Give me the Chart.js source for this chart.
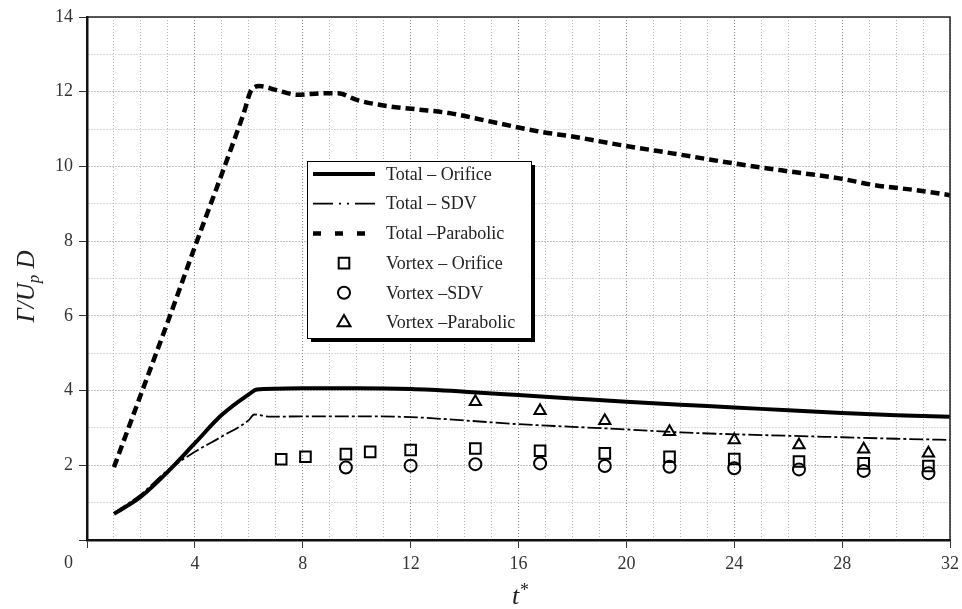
<!DOCTYPE html>
<html>
<head>
<meta charset="utf-8">
<script src="https://cdn.jsdelivr.net/npm/chart.js@4.4.0/dist/chart.umd.min.js"></script>
<style>
  html, body { margin: 0; padding: 0; background: #fff; }
  #wrap { width: 962px; height: 609px; }
</style>
</head>
<body>
<div id="wrap"><canvas id="chart" width="962" height="609"></canvas></div>
<script>
// total circulation curves
const orificeT = [1, 2, 3, 4, 5, 6, 6.3, 7, 8, 10, 12, 14, 16, 18, 20, 22, 24, 26, 28, 30, 32];
const orificeTotal = [0.7, 1.16, 1.83, 2.59, 3.35, 3.9, 4.03, 4.05, 4.06, 4.06, 4.04, 3.97, 3.88, 3.79, 3.70, 3.62, 3.55, 3.47, 3.40, 3.34, 3.30];

const sdvT = [1, 2, 3, 4, 5, 6, 6.2, 6.8, 8, 10, 12, 14, 16, 18, 20, 22, 24, 26, 28, 30, 32];
const sdvTotal = [0.72, 1.22, 1.87, 2.36, 2.77, 3.21, 3.36, 3.30, 3.31, 3.31, 3.29, 3.20, 3.10, 3.03, 2.96, 2.88, 2.83, 2.79, 2.75, 2.71, 2.68];

const paraT = [1, 2, 3, 4, 5, 5.8, 6.1, 6.4, 7, 7.8, 8.8, 9.3, 10, 11, 12.2, 13.5, 14.7, 16.8, 18, 19.8, 21.7, 24, 25.9, 27.9, 29.2, 30.9, 32];
const paraTotal = [1.95, 3.9, 5.85, 7.85, 9.8, 11.4, 12.05, 12.15, 12.05, 11.92, 11.96, 11.96, 11.78, 11.63, 11.53, 11.42, 11.24, 10.93, 10.8, 10.57, 10.35, 10.08, 9.88, 9.68, 9.5, 9.35, 9.23];

// vortex circulation markers
const orificeVortexT = [7.2, 8.1, 9.6, 10.5, 12, 14.4, 16.8, 19.2, 21.6, 24, 26.4, 28.8, 31.2];
const orificeVortex = [2.16, 2.23, 2.30, 2.36, 2.41, 2.45, 2.39, 2.32, 2.23, 2.17, 2.10, 2.05, 1.98];

const sdvVortexT = [9.6, 12, 14.4, 16.8, 19.2, 21.6, 24, 26.4, 28.8, 31.2];
const sdvVortex = [1.94, 1.99, 2.03, 2.05, 1.98, 1.96, 1.92, 1.89, 1.85, 1.79];

const paraVortexT = [14.4, 16.8, 19.2, 21.6, 24, 26.4, 28.8, 31.2];
const paraVortex = [3.70, 3.46, 3.19, 2.90, 2.68, 2.54, 2.43, 2.32];

const xTickStep = 4;
const yTickStep = 2;

const SERIF = '"Liberation Serif", "DejaVu Serif", serif';
const pts = (xs, ys) => xs.map((x, i) => ({ x, y: ys[i] }));

function lineSet(label, xs, ys, width, dash) {
    return {
        label, data: pts(xs, ys), showLine: true,
        borderColor: "#000", borderWidth: width, borderDash: dash,
        pointRadius: 0, cubicInterpolationMode: "monotone", fill: false,
    };
}
function markerSet(label, xs, ys, style, radius) {
    return {
        label, data: pts(xs, ys), showLine: false,
        pointStyle: style, pointRadius: radius, pointBorderWidth: 2,
        pointBorderColor: "#000", pointBackgroundColor: "rgba(0,0,0,0)",
        borderColor: "#000", backgroundColor: "rgba(0,0,0,0)",
    };
}

function drawMarker(ctx, style, x, y, r) {
    ctx.beginPath();
    if (style === "rect") {
        const s = r * Math.SQRT1_2;
        ctx.rect(x - s, y - s, 2 * s, 2 * s);
    } else if (style === "circle") {
        ctx.arc(x, y, r, 0, Math.PI * 2);
    } else {
        const w = r * Math.sqrt(3) / 2;
        ctx.moveTo(x, y - r);
        ctx.lineTo(x + w, y + r / 2);
        ctx.lineTo(x - w, y + r / 2);
        ctx.closePath();
    }
    ctx.stroke();
}

const decor = {
    id: "decor",
    afterDraw(chart) {
        const { ctx, chartArea: a } = chart;
        ctx.save();
        // top / right frame
        ctx.strokeStyle = "#222";
        ctx.lineWidth = 1.5;
        ctx.beginPath();
        ctx.moveTo(a.left, a.top); ctx.lineTo(a.right, a.top); ctx.lineTo(a.right, a.bottom);
        ctx.stroke();

        // shared corner zero
        ctx.fillStyle = "#333";
        ctx.font = "18px " + SERIF;
        ctx.textAlign = "right";
        ctx.textBaseline = "middle";
        ctx.fillText("0", a.left - 14, a.bottom + 23);

        // x title t*
        const xc = (a.left + a.right) / 2;
        ctx.fillStyle = "#222";
        ctx.textAlign = "left";
        ctx.textBaseline = "alphabetic";
        ctx.font = "italic 26px " + SERIF;
        const tw = ctx.measureText("t").width;
        ctx.fillText("t", xc - tw / 2 - 3, 604);
        ctx.font = "18px " + SERIF;
        ctx.fillText("*", xc + tw / 2 - 2, 596);

        // y title  Γ/U_p D
        ctx.save();
        ctx.translate(34, (a.top + a.bottom) / 2 + 8);
        ctx.rotate(-Math.PI / 2);
        ctx.font = "italic 25px " + SERIF;
        const w1 = ctx.measureText("Γ/U").width;
        const w3 = ctx.measureText(" D").width;
        ctx.font = "italic 17px " + SERIF;
        const w2 = ctx.measureText("p").width;
        let px = -(w1 + w2 + w3) / 2;
        ctx.font = "italic 25px " + SERIF;
        ctx.fillText("Γ/U", px, 0);
        px += w1;
        ctx.font = "italic 17px " + SERIF;
        ctx.fillText("p", px, 5);
        px += w2;
        ctx.font = "italic 25px " + SERIF;
        ctx.fillText(" D", px, 0);
        ctx.restore();

        // legend box
        const lx = a.left + 220, ly = a.top + 144, lw = 224, lh = 177;
        ctx.fillStyle = "#000";
        ctx.fillRect(lx + 4, ly + 4, lw, lh);
        ctx.fillStyle = "#fff";
        ctx.fillRect(lx, ly, lw, lh);
        ctx.strokeStyle = "#000";
        ctx.lineWidth = 1;
        ctx.strokeRect(lx + 0.5, ly + 0.5, lw, lh);

        const legendDash = [null, [20, 6, 2, 6, 2, 6], [8, 14]];
        chart.data.datasets.forEach((ds, i) => {
            const ry = ly + 13 + i * 29.7;
            ctx.strokeStyle = "#000";
            if (ds.showLine) {
                ctx.lineWidth = ds.borderWidth;
                ctx.setLineDash(legendDash[i] || []);
                ctx.beginPath();
                ctx.moveTo(lx + 6, ry);
                ctx.lineTo(lx + 68, ry);
                ctx.stroke();
                ctx.setLineDash([]);
            } else {
                ctx.lineWidth = 2;
                drawMarker(ctx, ds.pointStyle, lx + 37, ry, ds.pointStyle === "circle" ? 6 : 7.5);
            }
            ctx.fillStyle = "#222";
            ctx.font = "18px " + SERIF;
            ctx.textAlign = "left";
            ctx.textBaseline = "middle";
            ctx.fillText(ds.label, lx + 79, ry + 1);
        });
        ctx.restore();
    }
};

new Chart(document.getElementById("chart"), {
    type: "scatter",
    data: {
        datasets: [
            lineSet("Total \u2013 Orifice", orificeT, orificeTotal, 4, []),
            lineSet("Total \u2013 SDV", sdvT, sdvTotal, 1.8, [14, 3, 3, 3]),
            lineSet("Total \u2013Parabolic", paraT, paraTotal, 4.5, [9, 5]),
            markerSet("Vortex \u2013 Orifice", orificeVortexT, orificeVortex, "rect", 7.5),
            markerSet("Vortex \u2013SDV", sdvVortexT, sdvVortex, "circle", 6),
            markerSet("Vortex \u2013Parabolic", paraVortexT, paraVortex, "triangle", 6.5),
        ]
    },
    options: {
        responsive: false,
        animation: false,
        layout: { padding: { top: 17, right: 12, left: 0, bottom: 0 } },
        plugins: { legend: { display: false }, tooltip: { enabled: false } },
        scales: {
            x: {
                type: "linear", min: 0, max: 32,
                ticks: {
                    stepSize: 1, autoSkip: false, maxRotation: 0, padding: 5,
                    color: "#333", font: { family: SERIF, size: 18 },
                    callback: v => (v % xTickStep === 0 && v !== 0) ? String(v) : "",
                },
                grid: {
                    color: c => c.tick && c.tick.value % xTickStep === 0 ? "#888" : "#b8b8b8",
                    lineWidth: 1, tickLength: 8,
                    tickColor: c => c.tick && c.tick.value % xTickStep === 0 ? "#333" : "rgba(0,0,0,0)",
                },
                border: { color: "#111", width: 2.5, dash: [1, 2] },
                afterFit: s => { s.height = 69; s.paddingLeft = 0; s.paddingRight = 12; },
            },
            y: {
                type: "linear", min: 0, max: 14,
                ticks: {
                    stepSize: 1, autoSkip: false, padding: 6,
                    color: "#333", font: { family: SERIF, size: 18 },
                    callback: v => (v % yTickStep === 0 && v !== 0) ? String(v) : "",
                },
                grid: {
                    color: c => c.tick && c.tick.value % yTickStep === 0 ? "#888" : "#b8b8b8",
                    lineWidth: 1, tickLength: 8,
                    tickColor: c => c.tick && c.tick.value % yTickStep === 0 ? "#333" : "rgba(0,0,0,0)",
                },
                border: { color: "#111", width: 2.5, dash: [1, 2] },
                afterFit: s => { s.width = 87; },
            }
        }
    },
    plugins: [decor]
});
</script>
</body>
</html>
